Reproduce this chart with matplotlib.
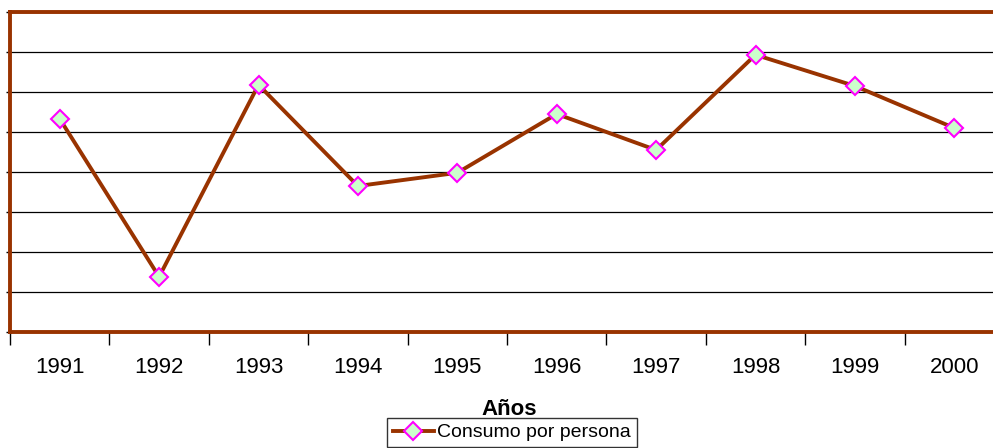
import numpy as np
import matplotlib
matplotlib.use('Agg')
import matplotlib.pyplot as plt
from matplotlib.ticker import FixedLocator

# data
years = ['1991', '1992', '1993', '1994', '1995', '1996', '1997', '1998', '1999', '2000']
consumo = [5.33, 1.38, 6.18, 3.65, 3.98, 5.45, 4.55, 6.93, 6.15, 5.10]

brown = '#993300'
plt.rcParams['font.family'] = ['Liberation Sans', 'DejaVu Sans']

fig = plt.figure(figsize=(9.93, 4.48), dpi=100)
W, H = 993, 448
# plot area runs past the right edge of the picture
ax = fig.add_axes([10 / W, 1 - 332 / H, 994 / W, 320 / H])

x = np.arange(len(years))
ax.plot(x, consumo, color=brown, lw=2.8, marker='D', ms=9.5,
        mfc='#CCFFCC', mec='#FF00FF', mew=1.5, label='Consumo por persona', zorder=3)

ax.set_xlim(-0.5, len(years) - 0.5)
ax.set_ylim(0, 8)

# horizontal gridlines
ax.set_yticks(np.arange(0, 9, 1))
ax.set_yticklabels([])
ax.tick_params(axis='y', direction='out', length=3, width=1, color='black')
ax.grid(axis='y', color='black', lw=0.9)
ax.set_axisbelow(True)

# x: labels centred on categories, ticks on boundaries
ax.set_xticks(x)
ax.set_xticklabels(years, fontsize=16)
ax.tick_params(axis='x', which='major', length=0, pad=18)
ax.xaxis.set_minor_locator(FixedLocator(np.arange(-0.5, len(years), 1)))
ax.tick_params(axis='x', which='minor', direction='out', length=9, width=1, color='black')

for s in ax.spines.values():
    s.set_color(brown)
    s.set_linewidth(2.8)

fig.text(509 / W, 1 - 409 / H, 'Años', ha='center', va='center',
         fontsize=16, fontweight='bold')

leg = fig.legend(loc='upper center', bbox_to_anchor=(512 / W, 1 - 418 / H),
                 fontsize=14, frameon=True, fancybox=False, borderpad=0.3,
                 handlelength=2.1, handletextpad=0.2, borderaxespad=0)
leg.get_frame().set_edgecolor('black')
leg.get_frame().set_linewidth(1)

fig.savefig('out.png', dpi=100)
